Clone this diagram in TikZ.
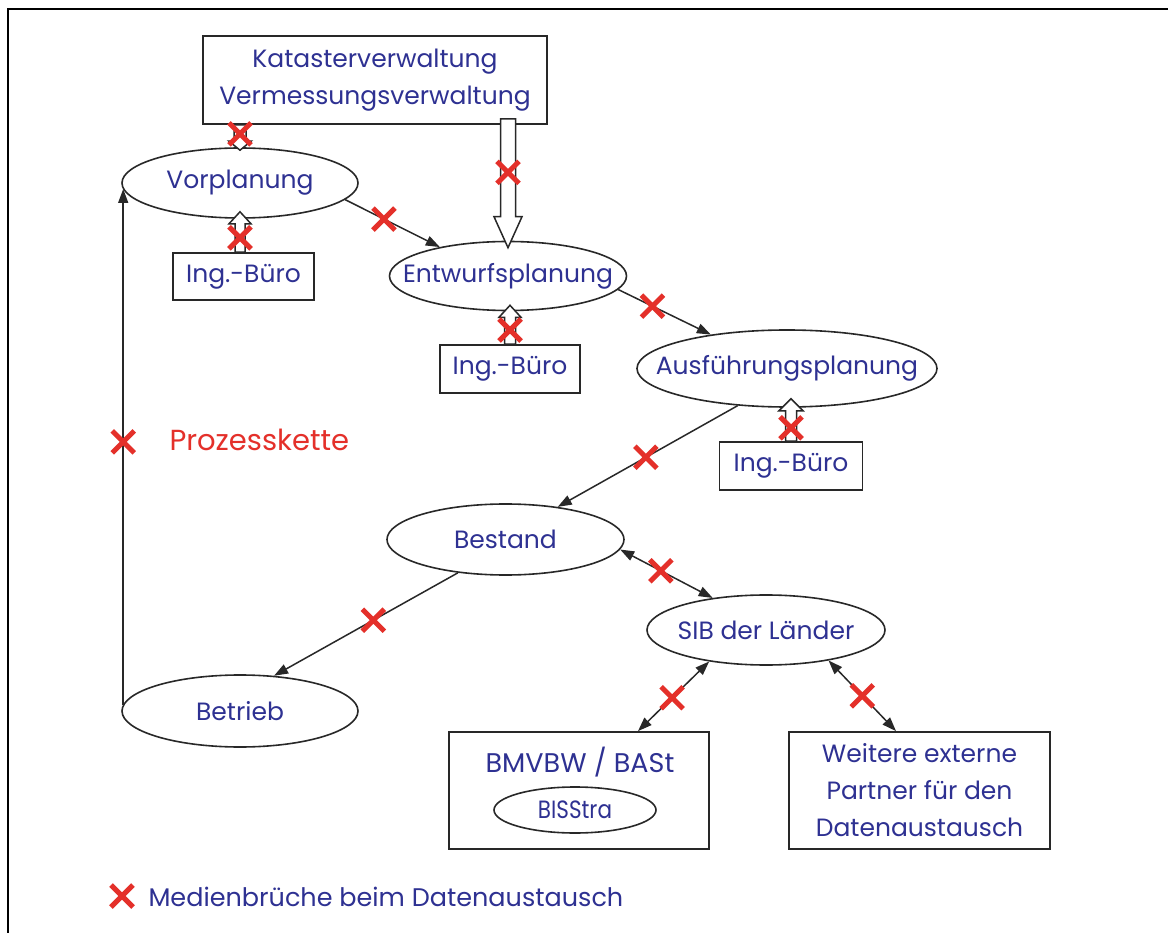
\documentclass[tikz,border=0pt]{standalone}
\usepackage{fontspec}
\setmainfont{Poppins}
\usetikzlibrary{shapes.geometric,shapes.misc,arrows.meta,calc}
\definecolor{txtblue}{RGB}{46,49,146}
\definecolor{xred}{RGB}{228,48,42}
\definecolor{edge}{RGB}{40,40,40}

% hollow block arrow: start, tip, stem half width, head half width, head length
\newcommand\hollowarrow[5]{%
  \path #1 coordinate (ha-s) #2 coordinate (ha-t);
  \coordinate (ha-b) at ($(ha-t)!#5!(ha-s)$);
  \draw[hollow] ($(ha-s)!#3!90:(ha-t)$) -- ($(ha-b)!#3!-90:(ha-s)$)
    -- ($(ha-b)!#4!-90:(ha-s)$) -- (ha-t) -- ($(ha-b)!#4!90:(ha-s)$)
    -- ($(ha-b)!#3!90:(ha-s)$) -- ($(ha-s)!#3!-90:(ha-t)$) -- cycle;
}

\begin{document}
\begin{tikzpicture}[x=1pt,y=-1pt,
  every node/.style={font=\fontsize{25}{37}\selectfont, text=txtblue},
  % the ellipse keeps its given size; the label is set in a zero-width box
  oval/.style={ellipse, draw=edge, line width=1.6pt, inner sep=0pt,
    execute at begin node={\hbox to 0pt\bgroup\hss},
    execute at end node={\hss\egroup}},
  box/.style={rectangle, draw=edge, line width=1.8pt, inner sep=0pt, align=center},
  conn/.style={draw=edge, line width=1.5pt, -{Triangle[length=14pt,width=10pt]}},
  bconn/.style={conn, {Triangle[length=14pt,width=10pt]}-{Triangle[length=14pt,width=10pt]}},
  xmark/.style={cross out, draw=xred, line width=5pt, minimum size=17pt, inner sep=0pt},
  hollow/.style={draw=edge, line width=1.5pt, fill=white, line join=miter},
]
\useasboundingbox (0,0) rectangle (1168,933);
\fill[white] (0,0) rectangle (1168,933);

% frame
\draw[line width=2.5pt] (8,933) -- (8,9) -- (1168,9);

% process chain
\node[box, minimum width=344pt, minimum height=88pt] (kat) at (375,80) {Katasterverwaltung\\Vermessungsverwaltung};
\node[oval, minimum width=236pt, minimum height=70pt] (vor) at (240,183) {Vorplanung};
\node[box, minimum width=141pt, minimum height=47pt] (ing1) at (243.5,276.5) {Ing.-Büro};
\node[oval, minimum width=237pt, minimum height=69pt] (ent) at (508,276) {Entwurfsplanung};
\node[box, minimum width=140pt, minimum height=48pt] (ing2) at (510,369) {Ing.-Büro};
\node[oval, minimum width=300pt, minimum height=77pt] (aus) at (787,368.5) {Ausführungsplanung};
\node[box, minimum width=143pt, minimum height=48pt] (ing3) at (791,466) {Ing.-Büro};
\node[oval, minimum width=237pt, minimum height=71pt] (bes) at (505.5,539.5) {Bestand};
\node[oval, minimum width=238pt, minimum height=70pt] (sib) at (766,630) {SIB der Länder};
\node[oval, minimum width=236pt, minimum height=72pt] (bet) at (240,711) {Betrieb};
\node[box, minimum width=260pt, minimum height=117pt] (bmv) at (579,790.5) {};
\node[font=\fontsize{27}{37}\selectfont] (bmvt) at (580,762) {BMVBW / BASt};
\node[oval, minimum width=162pt, minimum height=46pt] (bis) at (575,810) {\scalebox{0.86}[1]{BISStra}};
\node[box, minimum width=261pt, minimum height=117pt] (wei) at (919.5,790.5) {Weitere externe\\Partner für den\\Datenaustausch};

\node[text=xred, anchor=west, font=\fontsize{29}{37}\selectfont] (pk) at (166,440) {Prozesskette};

% block arrows
\hollowarrow{(kat.south -| vor.north)}{([yshift=-3pt]vor.north)}{6pt}{11pt}{9pt}
\hollowarrow{(ing1.north -| vor.south)}{([yshift=7pt]vor.south)}{5pt}{11pt}{12pt}
\hollowarrow{([yshift=6pt]kat.south -| ent.north)}{([yshift=-7pt]ent.north)}{7.5pt}{14pt}{31pt}
\coordinate (t4) at (ing2.north |- ent.south);
\hollowarrow{(ing2.north)}{([yshift=6pt]t4)}{5.5pt}{11pt}{12pt}
\coordinate (t5) at (ing3.north |- aus.south);
\hollowarrow{(ing3.north)}{([yshift=9pt]t5)}{5.5pt}{12pt}{12pt}

\node[xmark] at ($(kat.south -| vor.north)!0.4!(vor.north)$) {};
\node[xmark] at ($(ing1.north -| vor.south)!0.43!(vor.south)$) {};
\node[xmark] at ($(kat.south -| ent.north)!0.41!(ent.north)$) {};
\node[xmark] at ($(ing2.north)!0.43!(t4)$) {};
\node[xmark] at ($(ing3.north)!0.4!(t5)$) {};

% connectors
\draw[conn] (vor.-9.2) -- node[xmark,pos=0.41]{} (ent.157);
\draw[conn] (ent.-7.2) -- node[xmark,pos=0.37]{} (aus.156);
\draw[conn] (aus.217.8) -- node[xmark,pos=0.51]{} (bes.32.3);
\draw[bconn] (bes.-5.8) -- node[xmark,pos=0.44]{} (sib.149.5);
\draw[conn] (bes.215.2) -- node[xmark,pos=0.46]{} (bet.46.5);
\draw[conn] ([xshift=2pt,yshift=6pt]bet.west) -- node[xmark,pos=0.51]{} ([xshift=2pt,yshift=-6pt]vor.west);
\draw[bconn] (sib.209.6) -- node[xmark,pos=0.52]{} ([xshift=59pt]bmv.north);
\draw[bconn] (sib.-26) -- node[xmark,pos=0.5]{} ([xshift=-23.5pt]wei.north);

% legend
\node[xmark] (lx) at (122,896) {};
\node[anchor=west, font=\fontsize{25.5}{37}\selectfont] (lt) at (145,897) {Medienbrüche beim Datenaustausch};
\end{tikzpicture}
\end{document}
